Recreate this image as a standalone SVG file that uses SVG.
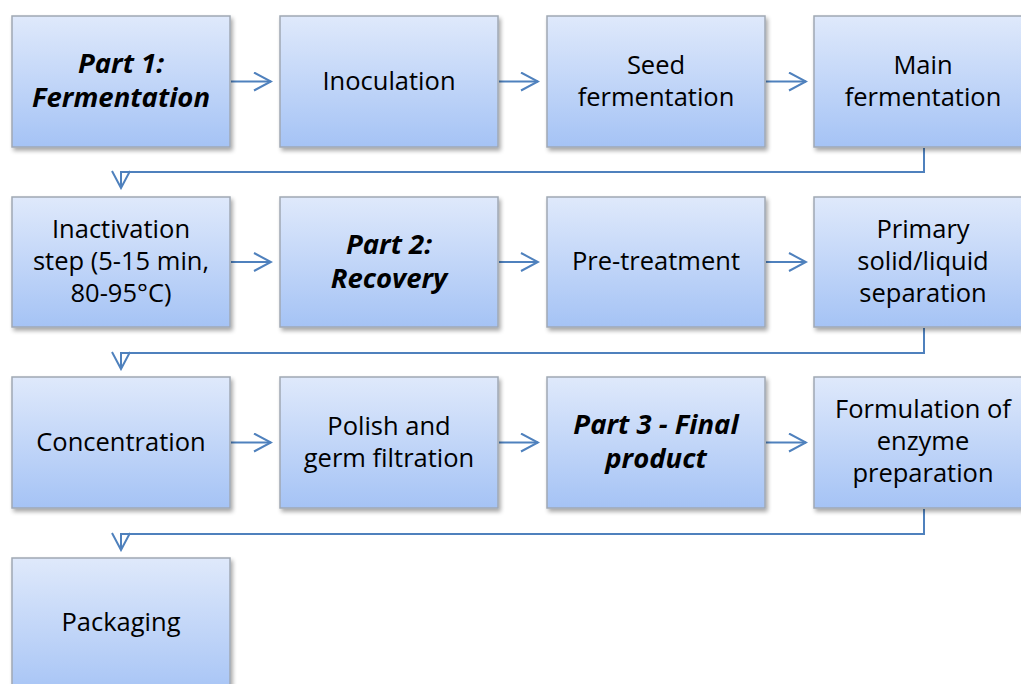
<svg xmlns="http://www.w3.org/2000/svg" width="1021" height="684" viewBox="0 0 1021 684">
<defs>
<linearGradient id="g" x1="0" y1="0" x2="0" y2="1">
<stop offset="0" stop-color="#dfe9fb"/>
<stop offset="1" stop-color="#a5c3f5"/>
</linearGradient>
<filter id="sh" x="-10%" y="-10%" width="130%" height="130%">
<feGaussianBlur in="SourceAlpha" stdDeviation="2"/>
<feOffset dx="2" dy="3"/>
<feComponentTransfer><feFuncA type="linear" slope="0.35"/></feComponentTransfer>
<feMerge><feMergeNode/><feMergeNode in="SourceGraphic"/></feMerge>
</filter>
<marker id="ah" viewBox="0 0 20 20" refX="18" refY="10" markerWidth="20" markerHeight="20" markerUnits="userSpaceOnUse" orient="auto">
<path d="M1,1 L18,10 L1,19" fill="none" stroke="#4f81bd" stroke-width="2"/>
</marker>
</defs>
<style>
.b{fill:url(#g);stroke:#a0a8b4;stroke-width:1.5;filter:url(#sh)}
.t{font-family:"Open Sans","Noto Sans",sans-serif;font-size:25.5px;fill:#000;text-anchor:middle}
.i{font-weight:bold;font-style:italic;font-size:27.5px}
.c{fill:none;stroke:#4f81bd;stroke-width:2}
</style>
<rect width="1021" height="684" fill="#fff"/>
<g id="connectors">
<path class="c" d="M231,81.5 H271" marker-end="url(#ah)"/>
<path class="c" d="M499,81.5 H538" marker-end="url(#ah)"/>
<path class="c" d="M766,81.5 H806" marker-end="url(#ah)"/>
<path class="c" d="M924,148 V172 H121 V188" marker-end="url(#ah)"/>
<path class="c" d="M231,262 H271" marker-end="url(#ah)"/>
<path class="c" d="M499,262 H538" marker-end="url(#ah)"/>
<path class="c" d="M766,262 H806" marker-end="url(#ah)"/>
<path class="c" d="M924,328 V353 H121 V369" marker-end="url(#ah)"/>
<path class="c" d="M231,442.5 H271" marker-end="url(#ah)"/>
<path class="c" d="M499,442.5 H538" marker-end="url(#ah)"/>
<path class="c" d="M766,442.5 H806" marker-end="url(#ah)"/>
<path class="c" d="M924,509 V534 H121 V550" marker-end="url(#ah)"/>
</g>
<g id="n1"><rect class="b" x="12" y="16" width="218" height="131"/><text class="t i" x="121" y="73">Part 1:</text><text class="t i" x="121" y="107">Fermentation</text></g>
<g id="n2"><rect class="b" x="280" y="16" width="218" height="131"/><text class="t" x="389" y="90">Inoculation</text></g>
<g id="n3"><rect class="b" x="547" y="16" width="218" height="131"/><text class="t" x="656" y="74">Seed</text><text class="t" x="656" y="106">fermentation</text></g>
<g id="n4"><rect class="b" x="814" y="16" width="218" height="131"/><text class="t" x="923" y="74">Main</text><text class="t" x="923" y="106">fermentation</text></g>
<g id="n5"><rect class="b" x="12" y="197" width="218" height="130"/><text class="t" x="121" y="238">Inactivation</text><text class="t" x="121" y="270">step (5-15 min,</text><text class="t" x="121" y="302">80-95°C)</text></g>
<g id="n6"><rect class="b" x="280" y="197" width="218" height="130"/><text class="t i" x="389" y="254">Part 2:</text><text class="t i" x="389" y="288">Recovery</text></g>
<g id="n7"><rect class="b" x="547" y="197" width="218" height="130"/><text class="t" x="656" y="270">Pre-treatment</text></g>
<g id="n8"><rect class="b" x="814" y="197" width="218" height="130"/><text class="t" x="923" y="238">Primary</text><text class="t" x="923" y="270">solid/liquid</text><text class="t" x="923" y="302">separation</text></g>
<g id="n9"><rect class="b" x="12" y="377" width="218" height="131"/><text class="t" x="121" y="451">Concentration</text></g>
<g id="n10"><rect class="b" x="280" y="377" width="218" height="131"/><text class="t" x="389" y="435">Polish and</text><text class="t" x="389" y="467">germ filtration</text></g>
<g id="n11"><rect class="b" x="547" y="377" width="218" height="131"/><text class="t i" x="656" y="434">Part 3 - Final</text><text class="t i" x="656" y="468">product</text></g>
<g id="n12"><rect class="b" x="814" y="377" width="218" height="131"/><text class="t" x="923" y="418">Formulation of</text><text class="t" x="923" y="450">enzyme</text><text class="t" x="923" y="482">preparation</text></g>
<g id="n13"><rect class="b" x="12" y="558" width="218" height="140"/><text class="t" x="121" y="631">Packaging</text></g>
</svg>
